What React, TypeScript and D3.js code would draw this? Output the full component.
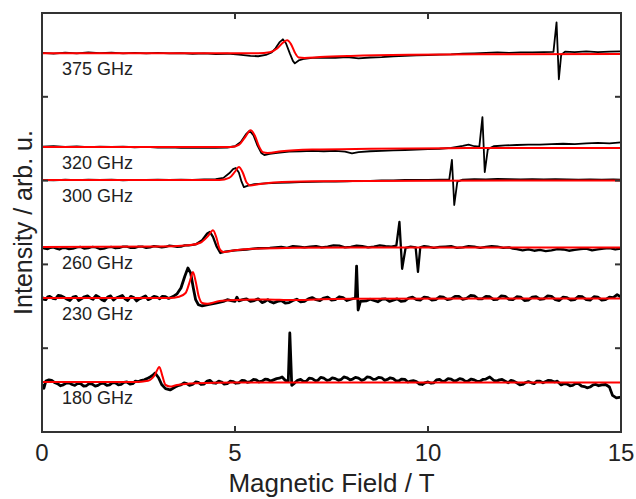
import React from "react";
import * as d3 from "d3";

type P = [number, number];

const labels = ["375 GHz", "320 GHz", "300 GHz", "260 GHz", "230 GHz", "180 GHz"];
const offsets = [45.19, 34.0, 30.07, 22.08, 15.99, 5.97];
const xTicks = [0, 5, 10, 15];
const yTicks = [0, 10, 20, 30, 40, 50];

const exp375: P[] = [[0,0.05],[0.3,-0.05],[0.6,0.08],[0.9,0],[1.2,0.1],[1.5,0.02],[1.8,0.08],[2.1,0],[2.4,0.06],[2.7,-0.02],[3.0,0.05],[3.3,0],[3.6,0.03],[3.9,-0.05],[4.2,0],[4.5,-0.08],[4.8,-0.05],[5.1,-0.15],[5.4,-0.3],[5.6,-0.35],[5.8,-0.2],[5.95,0.1],[6.05,0.6],[6.15,1.3],[6.24,1.67],[6.32,1.2],[6.42,0],[6.5,-0.9],[6.55,-1.2],[6.65,-0.85],[6.8,-0.65],[7.0,-0.55],[7.3,-0.5],[7.6,-0.55],[7.9,-0.45],[8.2,-0.6],[8.5,-0.5],[8.8,-0.45],[9.1,-0.35],[9.4,-0.3],[9.7,-0.25],[10.0,-0.2],[10.3,-0.15],[10.6,-0.12],[10.9,-0.05],[11.2,0],[11.5,0.05],[11.8,0.1],[12.1,0.05],[12.4,0.12],[12.7,0.1],[13.0,0.15],[13.25,0.18],[13.33,3.7],[13.39,-3.1],[13.45,-0.2],[13.55,0.2],[13.8,0.15],[14.1,0.22],[14.4,0.15],[14.7,0.2],[15,0.22]];
const exp320: P[] = [[0,0.05],[0.3,0.1],[0.6,0.02],[0.9,0.08],[1.2,0],[1.5,0.06],[1.8,0.02],[2.1,0.05],[2.4,-0.02],[2.7,0.03],[3.0,-0.05],[3.3,-0.02],[3.6,-0.08],[3.9,-0.05],[4.2,-0.1],[4.5,-0.08],[4.8,-0.05],[5.0,0.1],[5.15,0.6],[5.28,1.5],[5.38,1.95],[5.48,1.4],[5.58,0.2],[5.68,-0.7],[5.76,-0.95],[5.9,-0.8],[6.1,-0.7],[6.4,-0.55],[6.7,-0.5],[7.0,-0.45],[7.3,-0.5],[7.6,-0.45],[7.85,-0.55],[8.03,-0.75],[8.2,-0.6],[8.5,-0.5],[8.8,-0.45],[9.1,-0.4],[9.4,-0.35],[9.7,-0.3],[10.0,-0.25],[10.3,-0.2],[10.6,-0.1],[10.9,0.15],[11.05,0.3],[11.2,0.1],[11.33,0.05],[11.41,3.58],[11.47,-2.98],[11.55,-0.25],[11.7,0.1],[12.0,0.2],[12.3,0.25],[12.6,0.3],[12.9,0.3],[13.2,0.35],[13.5,0.4],[13.8,0.35],[14.1,0.45],[14.4,0.5],[14.7,0.45],[15,0.55]];
const exp300: P[] = [[0,0],[0.3,-0.05],[0.6,0.03],[0.9,-0.02],[1.2,0.05],[1.5,0],[1.8,0.04],[2.1,-0.03],[2.4,0.02],[2.7,0],[3.0,0.05],[3.3,0],[3.6,0.04],[3.9,0.02],[4.2,0.08],[4.5,0.1],[4.7,0.25],[4.85,0.8],[4.95,1.3],[5.02,1.43],[5.1,0.9],[5.17,-0.2],[5.23,-0.84],[5.32,-0.7],[5.5,-0.5],[5.8,-0.4],[6.1,-0.35],[6.4,-0.3],[6.7,-0.25],[7.0,-0.22],[7.3,-0.2],[7.6,-0.2],[7.9,-0.15],[8.2,-0.1],[8.5,-0.1],[8.8,-0.05],[9.1,-0.05],[9.4,0],[9.7,0],[10.0,0.02],[10.3,0.05],[10.55,0.05],[10.62,2.39],[10.68,-2.98],[10.76,-0.2],[10.9,0.05],[11.2,0.1],[11.5,0.08],[11.8,0.12],[12.1,0.1],[12.4,0.08],[12.7,0.1],[13.0,0.06],[13.3,0.1],[13.6,0.08],[13.9,0.05],[14.2,0.08],[14.5,0.05],[14.8,0.06],[15,0.05]];
const exp260: P[] = [[0,-0.1],[0.08,-0.2],[0.15,-0.25],[0.22,-0.1],[0.3,-0.05],[0.38,-0.2],[0.45,-0.3],[0.52,-0.15],[0.6,-0.1],[0.7,-0.25],[0.8,-0.2],[0.9,-0.05],[1.0,0],[1.1,-0.2],[1.2,-0.15],[1.3,0],[1.4,-0.05],[1.5,-0.25],[1.6,-0.2],[1.7,-0.05],[1.8,0],[1.9,-0.15],[2.0,-0.1],[2.1,0.05],[2.2,0.05],[2.3,-0.1],[2.4,-0.1],[2.5,0.05],[2.6,0.05],[2.7,-0.1],[2.8,-0.05],[2.9,0.1],[3.0,0.05],[3.1,-0.05],[3.2,0],[3.3,0.15],[3.4,0.1],[3.5,0],[3.6,0.05],[3.7,0.2],[3.8,0.2],[3.9,0.25],[4.0,0.35],[4.15,0.8],[4.28,1.6],[4.35,1.8],[4.43,1.2],[4.52,0.1],[4.62,-0.72],[4.75,-0.55],[5.0,-0.4],[5.3,-0.3],[5.6,-0.15],[5.9,-0.1],[6.2,0],[6.35,-0.1],[6.5,0.1],[6.65,0.05],[6.8,-0.05],[6.95,0.05],[7.1,0.1],[7.25,-0.05],[7.4,0.05],[7.55,0.2],[7.7,0.15],[7.85,-0.05],[8.0,0],[8.15,0.15],[8.3,0.1],[8.45,-0.05],[8.6,0.05],[8.75,0.2],[8.9,0.1],[9.05,0.05],[9.18,0.15],[9.26,2.98],[9.33,-2.6],[9.42,-0.1],[9.55,0.05],[9.68,-0.05],[9.74,-2.98],[9.8,-0.05],[9.9,0.1],[10.0,0.05],[10.15,-0.1],[10.3,0],[10.45,0.05],[10.6,0.1],[10.75,-0.1],[10.9,-0.05],[11.05,0.1],[11.2,0.05],[11.35,-0.1],[11.5,0],[11.65,0.1],[11.8,0.05],[11.95,-0.1],[12.1,-0.05],[12.2,-0.2],[12.3,-0.25],[12.45,-0.4],[12.6,-0.3],[12.75,-0.45],[12.9,-0.35],[13.05,-0.5],[13.2,-0.4],[13.35,-0.25],[13.5,-0.3],[13.65,-0.45],[13.8,-0.35],[13.95,-0.25],[14.1,-0.2],[14.25,-0.4],[14.4,-0.3],[14.55,-0.2],[14.7,-0.15],[14.85,-0.3],[15,-0.2]];
const exp230: P[] = [[0,0.1],[0.05,-0.15],[0.1,-0.2],[0.15,0.15],[0.2,0.2],[0.28,-0.05],[0.35,-0.1],[0.42,0.3],[0.5,0.25],[0.58,0.05],[0.65,-0.15],[0.72,-0.3],[0.8,0.1],[0.88,0.2],[0.95,-0.3],[1.02,-0.1],[1.1,0.15],[1.18,0.25],[1.25,0],[1.32,-0.15],[1.4,0.3],[1.48,0.1],[1.55,-0.2],[1.62,-0.35],[1.7,0.1],[1.78,0.25],[1.85,-0.25],[1.92,0],[2.0,0.15],[2.08,0.3],[2.15,-0.1],[2.22,-0.3],[2.3,0.2],[2.38,0.05],[2.45,-0.35],[2.52,-0.1],[2.6,0.05],[2.68,0.25],[2.75,-0.2],[2.82,-0.05],[2.9,0.2],[2.98,0.1],[3.05,-0.1],[3.12,0.2],[3.2,0.15],[3.28,-0.05],[3.35,0.1],[3.42,0.25],[3.5,0.5],[3.6,1.2],[3.7,2.6],[3.78,3.58],[3.85,3.0],[3.92,1.2],[3.98,-0.2],[4.05,-0.8],[4.15,-0.95],[4.3,-0.8],[4.5,-0.6],[4.7,-0.4],[4.8,-0.2],[4.9,-0.3],[5.0,-0.4],[5.05,0.1],[5.1,-0.35],[5.2,-0.2],[5.3,-0.1],[5.4,-0.4],[5.5,-0.3],[5.6,-0.1],[5.7,-0.55],[5.78,-0.4],[5.85,-0.2],[5.92,-0.45],[6.0,-0.6],[6.1,-0.4],[6.2,-0.3],[6.3,-0.6],[6.4,-0.55],[6.5,-0.3],[6.6,-0.15],[6.7,-0.45],[6.8,-0.4],[6.9,-0.1],[7.0,0.05],[7.1,-0.2],[7.2,-0.3],[7.3,0],[7.4,0.1],[7.5,-0.25],[7.6,-0.2],[7.7,0.15],[7.8,0.05],[7.9,-0.3],[8.0,-0.15],[8.12,0],[8.15,3.8],[8.19,-1.43],[8.25,-0.4],[8.4,-0.35],[8.5,-0.15],[8.6,-0.3],[8.7,-0.45],[8.8,-0.15],[8.9,-0.1],[9.0,-0.4],[9.1,-0.25],[9.2,-0.1],[9.3,-0.4],[9.4,-0.35],[9.5,0],[9.6,0.1],[9.7,-0.2],[9.8,-0.25],[9.9,0.1],[10.0,0.05],[10.1,-0.25],[10.2,-0.2],[10.3,0.15],[10.4,0.1],[10.5,-0.2],[10.6,-0.1],[10.7,0.2],[10.8,0.2],[10.9,-0.15],[11.0,-0.05],[11.1,0.3],[11.2,0.25],[11.3,-0.1],[11.4,-0.1],[11.5,0.2],[11.6,0.15],[11.7,-0.2],[11.8,-0.15],[11.9,0.25],[12.0,0.2],[12.1,-0.15],[12.2,-0.2],[12.3,0.15],[12.4,0.1],[12.5,-0.3],[12.6,-0.25],[12.7,0.1],[12.8,0.15],[12.9,-0.15],[13.0,-0.1],[13.1,0.25],[13.2,0.2],[13.3,-0.2],[13.4,-0.3],[13.5,0.1],[13.6,0.05],[13.7,-0.25],[13.8,-0.2],[13.9,0.2],[14.0,0.15],[14.1,-0.2],[14.2,-0.25],[14.3,0.15],[14.4,0.1],[14.5,-0.25],[14.6,-0.2],[14.7,0.1],[14.8,0.05],[14.9,0.4],[15,0.1]];
const exp180: P[] = [[0,-0.3],[0.05,-0.75],[0.1,0.1],[0.18,0.25],[0.25,0.2],[0.32,-0.05],[0.4,-0.2],[0.48,-0.45],[0.55,-0.35],[0.62,-0.15],[0.7,-0.1],[0.78,-0.3],[0.85,-0.4],[0.92,-0.2],[1.0,-0.2],[1.08,-0.5],[1.15,-0.45],[1.22,-0.2],[1.3,-0.25],[1.38,-0.5],[1.45,-0.4],[1.52,-0.2],[1.6,-0.15],[1.68,-0.4],[1.75,-0.35],[1.82,-0.1],[1.9,-0.1],[1.98,-0.35],[2.05,-0.3],[2.12,-0.05],[2.2,0],[2.28,-0.25],[2.35,-0.2],[2.42,0.1],[2.5,0.05],[2.58,0.2],[2.65,0.25],[2.72,0.4],[2.8,0.6],[2.87,0.8],[2.93,1.07],[3.02,0.5],[3.1,-0.3],[3.2,-0.8],[3.32,-0.95],[3.45,-0.6],[3.52,-0.45],[3.6,-0.35],[3.68,-0.1],[3.75,-0.2],[3.82,-0.4],[3.9,-0.3],[3.98,0],[4.05,-0.05],[4.12,-0.3],[4.2,-0.25],[4.28,0.1],[4.35,0.2],[4.42,-0.1],[4.5,-0.15],[4.58,0.1],[4.65,0],[4.72,-0.25],[4.8,-0.2],[4.88,0.1],[4.95,0.05],[5.02,-0.15],[5.1,-0.1],[5.18,0.2],[5.25,0.15],[5.32,-0.05],[5.4,0.05],[5.48,0.3],[5.55,0.25],[5.62,0],[5.7,0.1],[5.78,0.35],[5.85,0.3],[5.92,0.1],[6.0,0.25],[6.08,0.4],[6.15,0.45],[6.22,0.6],[6.3,0.2],[6.38,0.1],[6.42,5.85],[6.47,-0.4],[6.55,-0.1],[6.62,0.2],[6.7,0.3],[6.78,0.05],[6.85,0.1],[6.92,0.45],[7.0,0.4],[7.08,0.15],[7.15,0.2],[7.22,0.55],[7.3,0.45],[7.38,0.2],[7.45,0.25],[7.52,0.5],[7.6,0.4],[7.68,0.2],[7.75,0.3],[7.82,0.6],[7.9,0.5],[7.98,0.25],[8.05,0.35],[8.12,0.55],[8.2,0.45],[8.28,0.2],[8.35,0.3],[8.42,0.6],[8.5,0.55],[8.58,0.3],[8.65,0.35],[8.72,0.55],[8.8,0.5],[8.88,0.2],[8.95,0.3],[9.02,0.5],[9.1,0.4],[9.18,0.1],[9.25,0.15],[9.32,0.35],[9.4,0.3],[9.48,0],[9.55,0.1],[9.62,0.15],[9.7,0.05],[9.78,-0.25],[9.85,-0.3],[9.92,-0.1],[10.0,0],[10.08,-0.15],[10.15,-0.1],[10.22,0.25],[10.3,0.3],[10.38,0.05],[10.45,0.15],[10.52,0.4],[10.6,0.35],[10.68,0.1],[10.75,0.2],[10.82,0.4],[10.9,0.3],[10.98,0.05],[11.05,0.15],[11.12,0.35],[11.2,0.25],[11.28,0.05],[11.35,0.1],[11.42,0.3],[11.5,0.35],[11.6,0.6],[11.7,0.2],[11.78,0.1],[11.85,0.25],[11.92,0.3],[12.0,0.1],[12.08,-0.1],[12.15,0.2],[12.22,0.1],[12.3,-0.1],[12.38,-0.35],[12.45,-0.3],[12.52,-0.1],[12.6,0.05],[12.68,-0.1],[12.75,-0.2],[12.82,0.1],[12.9,0.1],[12.98,-0.1],[13.05,0.05],[13.12,0.2],[13.2,0.15],[13.28,0],[13.35,0.1],[13.45,-0.35],[13.52,-0.2],[13.6,-0.25],[13.68,-0.45],[13.75,-0.4],[13.82,-0.2],[13.9,-0.2],[13.98,-0.5],[14.05,-0.55],[14.12,-0.7],[14.2,-0.6],[14.28,-0.35],[14.35,-0.3],[14.42,-0.45],[14.5,-0.35],[14.6,-0.3],[14.7,-0.6],[14.78,-1.6],[14.88,-1.9],[15,-1.8]];

const fit375: P[] = [[0,0],[5.6,0],[5.9,0.12],[6.1,0.6],[6.25,1.3],[6.35,1.55],[6.45,1.1],[6.55,0.1],[6.65,-0.5],[6.8,-0.55],[7.2,-0.45],[8,-0.32],[9.5,-0.18],[12,-0.1],[15,-0.08]];
const fit320: P[] = [[0,0],[4.9,0],[5.1,0.25],[5.25,1.1],[5.41,2.0],[5.52,1.3],[5.62,0.1],[5.72,-0.6],[5.85,-0.7],[6.2,-0.5],[7,-0.3],[8.5,-0.2],[11,-0.12],[15,-0.1]];
const fit300: P[] = [[0,0],[4.6,0],[4.85,0.25],[5.0,1.0],[5.1,1.55],[5.2,0.9],[5.3,-0.3],[5.4,-0.65],[5.6,-0.5],[6,-0.3],[7,-0.15],[10,-0.08],[15,-0.05]];
const fit260: P[] = [[0,0],[3,0.05],[3.8,0.2],[4.1,0.5],[4.3,1.3],[4.43,2.0],[4.52,1.1],[4.6,-0.2],[4.7,-0.6],[5.0,-0.4],[5.5,-0.2],[6.5,-0.1],[8,-0.05],[15,-0.05]];
const fit230: P[] = [[0,0],[3.3,0],[3.55,0.15],[3.72,0.6],[3.83,2.0],[3.91,3.1],[3.98,2.0],[4.06,0.2],[4.15,-0.6],[4.28,-0.7],[4.6,-0.35],[5.2,-0.2],[5.8,-0.18],[6.5,-0.25],[7.2,-0.15],[8,-0.1],[15,-0.05]];
const fit180: P[] = [[0,0],[2.4,0],[2.75,0.15],[2.92,0.8],[3.04,1.8],[3.12,0.7],[3.2,-0.35],[3.32,-0.55],[3.5,-0.35],[4,-0.15],[5,-0.05],[15,-0.05]];

const experiments = [exp375, exp320, exp300, exp260, exp230, exp180];
const fits = [fit375, fit320, fit300, fit260, fit230, fit180];

const W = 636, H = 499;
const left = 42, right = 621, top = 13, bottom = 432;

export default function App() {
  const x = d3.scaleLinear().domain([0, 15]).range([left, right]);
  const y = d3.scaleLinear().domain([0, 50]).range([bottom, top]);
  const font = "'Liberation Sans', Arial, sans-serif";
  const expWidths = [1.8, 1.8, 1.8, 2.3, 2.8, 2.8];

  return (
    <svg width={W} height={H} style={{ position: "absolute", left: 0, top: 0, background: "#fff" }}>
      <defs>
        <clipPath id="plotclip">
          <rect x={left} y={top} width={right - left} height={bottom - top} />
        </clipPath>
      </defs>
      <g clipPath="url(#plotclip)">
        {experiments.map((d, i) => {
          const gen = d3.line<P>().x(p => x(p[0])).y(p => y(offsets[i] + p[1])).curve(d3.curveLinear);
          return <path key={"e" + i} d={gen(d) || ""} fill="none" stroke="#000" strokeWidth={expWidths[i]} strokeLinejoin="round" />;
        })}
        {fits.map((d, i) => {
          const gen = d3.line<P>().x(p => x(p[0])).y(p => y(offsets[i] + p[1])).curve(d3.curveMonotoneX);
          return <path key={"f" + i} d={gen(d) || ""} fill="none" stroke="#ff0000" strokeWidth={2} />;
        })}
      </g>
      {labels.map((t, i) => (
        <text key={t} x={62} y={y(offsets[i]) + 22} fontFamily={font} fontSize={18} fill="#222">{t}</text>
      ))}
      <rect x={left} y={top} width={right - left} height={bottom - top} fill="none" stroke="#333" strokeWidth={2} />
      {xTicks.map(t => (
        <g key={"xt" + t}>
          <line x1={x(t)} x2={x(t)} y1={bottom} y2={bottom - 6} stroke="#333" strokeWidth={2} />
          <line x1={x(t)} x2={x(t)} y1={top} y2={top + 6} stroke="#333" strokeWidth={2} />
          <text x={x(t)} y={461} textAnchor="middle" fontFamily={font} fontSize={24} fill="#222">{t}</text>
        </g>
      ))}
      {yTicks.map(t => (
        <g key={"yt" + t}>
          <line x1={left} x2={left + 6} y1={y(t)} y2={y(t)} stroke="#333" strokeWidth={2} />
          <line x1={right} x2={right - 6} y1={y(t)} y2={y(t)} stroke="#333" strokeWidth={2} />
        </g>
      ))}
      <text x={(left + right) / 2} y={492} textAnchor="middle" fontFamily={font} fontSize={26} fill="#222">Magnetic Field / T</text>
      <text transform={`translate(32, ${(top + bottom) / 2}) rotate(-90)`} textAnchor="middle" fontFamily={font} fontSize={25} fill="#222">Intensity / arb. u.</text>
    </svg>
  );
}
